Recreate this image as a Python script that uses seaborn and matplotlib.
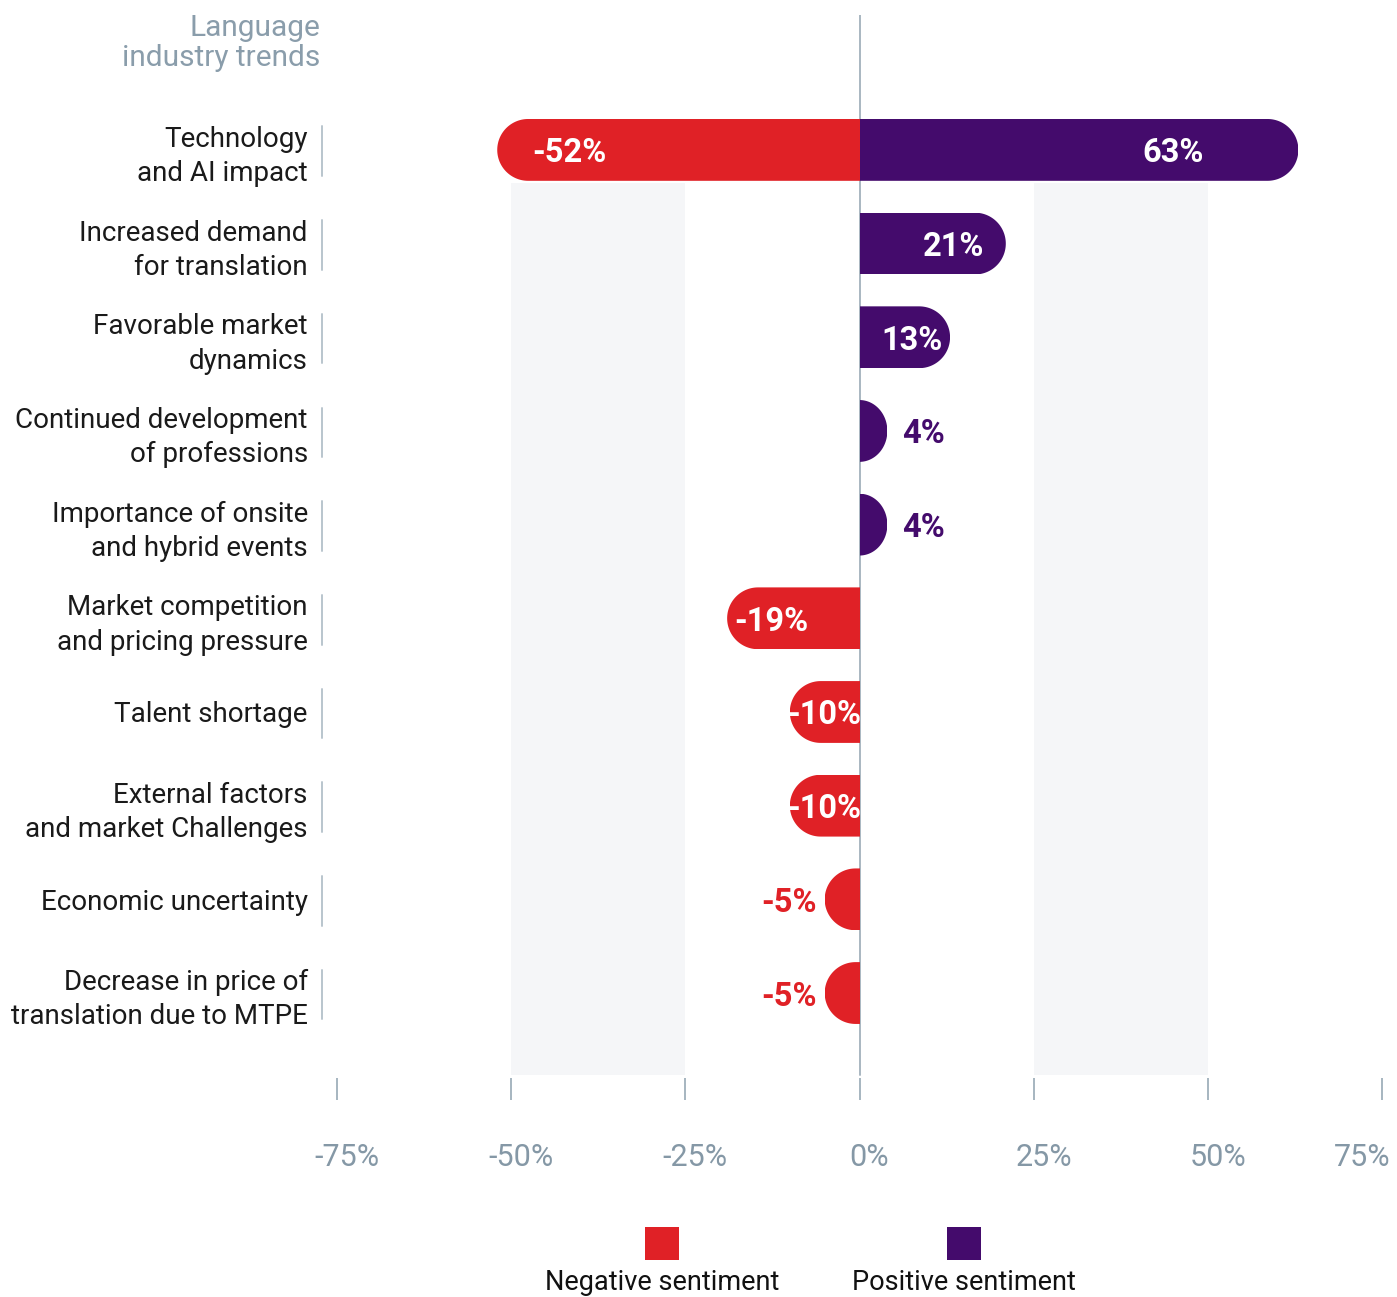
import numpy as np
import pandas as pd
import matplotlib
matplotlib.use("Agg")
import matplotlib.pyplot as plt
import seaborn as sns
from matplotlib.path import Path
from matplotlib.patches import Rectangle
from matplotlib.transforms import blended_transform_factory, ScaledTranslation

# ---------------- data ----------------
categories = [
    "Technology\nand AI impact",
    "Increased demand\nfor translation",
    "Favorable market\ndynamics",
    "Continued development\nof professions",
    "Importance of onsite\nand hybrid events",
    "Market competition\nand pricing pressure",
    "Talent shortage",
    "External factors\nand market Challenges",
    "Economic uncertainty",
    "Decrease in price of\ntranslation due to MTPE",
]
negative_values = [-52, 0, 0, 0, 0, -19, -10, -10, -5, -5]
positive_values = [63, 21, 13, 4, 4, 0, 0, 0, 0, 0]
tick_values = [-75, -50, -25, 0, 25, 50, 75]
tick_labels = ["-75%", "-50%", "-25%", "0%", "25%", "50%", "75%"]
legend_labels = ["Negative sentiment", "Positive sentiment"]
title_text = "Language\nindustry trends"

RED = "#e02126"
PURPLE = "#440b6c"
palette = {"Negative": RED, "Positive": PURPLE}

rows = []
for c, n, p in zip(categories, negative_values, positive_values):
    if n != 0:
        rows.append({"category": c, "value": n, "sentiment": "Negative"})
    if p != 0:
        rows.append({"category": c, "value": p, "sentiment": "Positive"})
df = pd.DataFrame(rows)

# ---------------- figure ----------------
sns.set_theme(style="white")
plt.rcParams["font.family"] = ["Roboto", "DejaVu Sans"]

W, H = 1397, 1297
fig = plt.figure(figsize=(W / 100, H / 100), dpi=100)
ax_left, ax_right = 337 / W, 1382 / W
ax_top, ax_bottom = 1 - 15 / H, 1 - 1078 / H
ax = fig.add_axes([ax_left, ax_bottom, ax_right - ax_left, ax_top - ax_bottom])

BAR_H = 0.66
sns.barplot(data=df, x="value", y="category", hue="sentiment", palette=palette,
            order=categories, hue_order=["Negative", "Positive"], orient="h",
            dodge=False, width=BAR_H, saturation=1, linewidth=0, legend=False,
            ax=ax, zorder=3)

ax.set_xlim(-75, 75)
ax.set_ylim(9.907, -1.44)

# background bands
band_top, band_bottom = 0.35, 9.875
for a, b in [(-50, -25), (25, 50)]:
    ax.fill_betweenx([band_top, band_bottom], a, b, color="#f5f6f8", lw=0, zorder=0)

# zero line
ax.plot([0, 0], [-1.44, band_bottom], color="#a9b7c1", lw=1.4, zorder=2.5)

# ---------------- rounded outer ends ----------------
fig.canvas.draw()
renderer = fig.canvas.get_renderer()
p0 = ax.transData.transform((0, 0))
px_per_x = ax.transData.transform((1, 0))[0] - p0[0]
px_per_y = abs(ax.transData.transform((0, 1))[1] - p0[1])
ry = BAR_H / 2
rx = ry * px_per_y / px_per_x

for patch in list(ax.patches):
    if not isinstance(patch, Rectangle):
        continue
    w = patch.get_width()
    if w == 0 or abs(patch.get_height() - BAR_H) > 1e-6:
        continue
    x0 = patch.get_x()
    xo = x0 + w if abs(x0 + w) > abs(x0) else x0
    s = 1 if xo > 0 else -1
    yc = patch.get_y() + patch.get_height() / 2
    rxe = min(rx, abs(xo))
    xc = xo - s * rxe
    t = np.linspace(-np.pi / 2, np.pi / 2, 60)
    inner = -s * 0.3
    verts = [(inner, yc - ry), (xc, yc - ry)]
    verts += [(xc + s * rxe * np.cos(a), yc + ry * np.sin(a)) for a in t]
    verts += [(xc, yc + ry), (inner, yc + ry), (inner, yc - ry)]
    patch.set_clip_path(Path(verts, closed=True), ax.transData)

# ---------------- value labels ----------------
VFS = 23.5
for i, (n, p) in enumerate(zip(negative_values, positive_values)):
    for v, col in ((n, RED), (p, PURPLE)):
        if v == 0:
            continue
        inside = abs(v) >= 10
        t = ax.text(v, i, f"{v}%", ha="left", va="center_baseline", fontsize=VFS,
                    fontweight="bold", color="white" if inside else col, zorder=5)
        tw = t.get_window_extent(renderer).width          # px
        blen = abs(v) * px_per_x                          # px
        if v > 0:
            if inside:
                off = max(0.25 * (blen - tw), 3)
                left = v - (off + tw) / px_per_x
            else:
                left = v + 15 / px_per_x
        else:
            if inside:
                if blen - tw < 6:
                    left = v + 0.5 * (blen - tw) / px_per_x
                else:
                    left = v + max(0.12 * (blen - tw), 3) / px_per_x
            else:
                left = v - (8 + tw) / px_per_x
        t.set_x(left)

# ---------------- axes styling ----------------
for sp in ax.spines.values():
    sp.set_visible(False)
ax.set_xlabel("")
ax.set_ylabel("")
ax.set_xticks(tick_values)
ax.set_xticklabels(tick_labels)
ax.tick_params(axis="x", bottom=True, direction="out", length=16, width=1.3,
               color="#9fb0bb", pad=31, labelsize=22, labelcolor="#8598a6")
for k, lbl in enumerate(ax.get_xticklabels()):
    shift = -20 if k == len(tick_values) - 1 else 10
    lbl.set_transform(lbl.get_transform() + ScaledTranslation(shift / 100, 0, fig.dpi_scale_trans))
ax.tick_params(axis="y", left=False, length=0, pad=21, labelsize=20, labelcolor="#1a1a1a")
for lbl in ax.get_yticklabels():
    lbl.set_multialignment("right")
    lbl.set_linespacing(1.35)
ax.grid(False)

# brackets next to category labels
bt = blended_transform_factory(ax.transAxes, ax.transData)
bx = (322 - 337) / (1382 - 337)
for i in range(len(categories)):
    ax.plot([bx, bx], [i - 0.25, i + 0.28], transform=bt, clip_on=False,
            color="#b9c5cd", lw=1.4)

# title
fig.text(320 / W, 1 - 43 / H, title_text, ha="right", va="center", ma="right",
         fontsize=21.5, color="#8a9dab", linespacing=1.05)

# legend (handle above label)
for (cx, lab, col) in [(662, legend_labels[0], RED), (964, legend_labels[1], PURPLE)]:
    fig.patches.append(Rectangle(((cx - 17) / W, 1 - 1260 / H), 34 / W, 33 / H,
                                 transform=fig.transFigure, facecolor=col, lw=0))
    fig.text(cx / W, 1 - 1283 / H, lab, ha="center", va="center", fontsize=19.5,
             color="#111111")

fig.savefig("out.png", dpi=100)
